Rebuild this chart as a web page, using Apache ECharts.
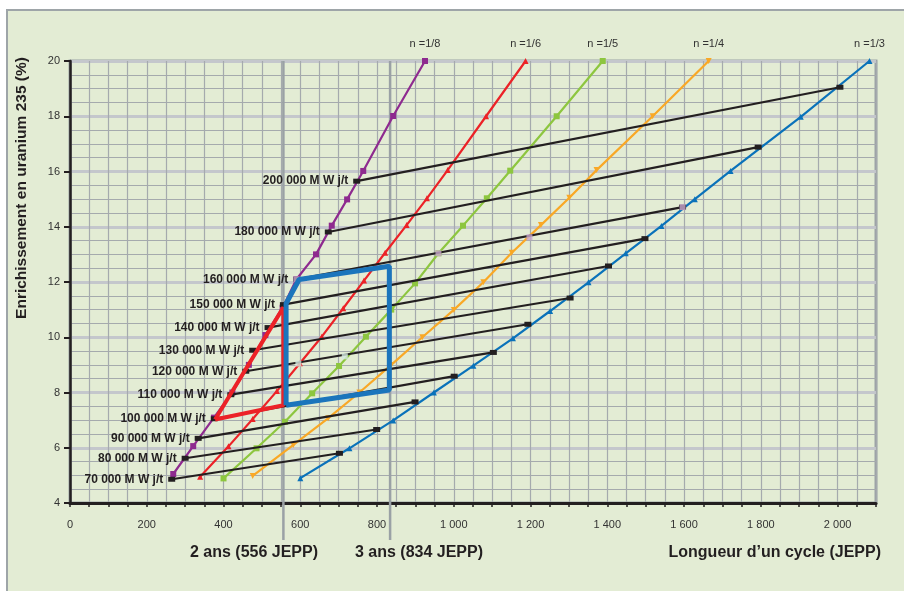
<!DOCTYPE html>
<html>
<head>
<meta charset="utf-8">
<script src="https://cdn.jsdelivr.net/npm/echarts@6/dist/echarts.min.js"></script>
<style>
html,body{margin:0;padding:0;background:#fff;}
#frame{position:absolute;left:6px;top:9px;right:0;bottom:0;background:#e3ecd4;border-left:2px solid #9ea5a8;border-top:2px solid #9ea5a8;}
#chart{position:absolute;left:0;top:0;width:904px;height:591px;}
</style>
</head>
<body>
<div id="frame"></div>
<div id="chart"></div>
<script>
// ---- data ----
const nLabels = ['n =1/8', 'n =1/6', 'n =1/5', 'n =1/4', 'n =1/3'];
const n8 = [[269,5.05],[321,6.06],[375,7.09],[423,8.0],[466,9.0],[509,10.08],[554,11.07],[590,12.1],[641,13.0],[682,14.04],[722,14.99],[764,16.02],[842,18.01],[925,20]];
const n6 = [[339,4.95],[413,6.05],[476,7.04],[539,8.05],[599,9.06],[656,10.02],[712,11.05],[766,12.05],[821,13.06],[877,14.06],[930,15.03],[984,16.05],[1084,18.0],[1187,20]];
const n5 = [[400,4.89],[486,5.98],[560,6.94],[631,7.97],[701,8.96],[771,10.02],[837,11.0],[899,11.95],[960,13.04],[1024,14.04],[1086,15.03],[1147,16.03],[1268,18.0],[1388,20]];
const n4 = [[476,4.98],[582,6.1],[673,7.07],[754,8.0],[837,9.0],[918,10.0],[1000,10.99],[1077,11.99],[1151,13.06],[1227,14.06],[1301,15.05],[1372,16.05],[1518,18.0],[1664,20]];
const n3 = [[600,4.9],[728,5.98],[842,6.99],[948,8.0],[1051,8.97],[1154,9.96],[1251,10.95],[1351,11.99],[1448,13.04],[1541,14.03],[1628,15.0],[1721,16.02],[1904,17.98],[2083,20]];

const burnupLabels = ['70 000 M W j/t','80 000 M W j/t','90 000 M W j/t','100 000 M W j/t','110 000 M W j/t','120 000 M W j/t','130 000 M W j/t','140 000 M W j/t','150 000 M W j/t','160 000 M W j/t','180 000 M W j/t','200 000 M W j/t'];
const burnupStart = [[265,4.86],[300,5.62],[334,6.34],[376,7.05],[419,7.92],[458,8.77],[476,9.53],[516,10.35],[556,11.18],[591,12.1],[673,13.81],[747,15.65]];
const burnupEnd = [[702,5.80],[799,6.66],[899,7.66],[1001,8.59],[1103,9.45],[1193,10.47],[1303,11.42],[1403,12.58],[1498,13.57],[1596,14.71],[1793,16.88],[2006,19.05]];

const redZone = [[378,7.02],[556,11.08],[556,7.54],[378,7.02]];
const blueZone = [[563,7.54],[563,11.22],[597,12.09],[832,12.57],[832,8.09],[563,7.54]];
const lilacPts = [[590,12.1],[960,13.04],[1197,13.62],[1596,14.71]];
const palePts = [[595,9.05],[716,9.31]];

const cycleLines = [556, 834];
const cycleLabels = ['2 ans (556 JEPP)', '3 ans (834 JEPP)'];
const xTitle = 'Longueur d\u2019un cycle (JEPP)';
const yTitle = 'Enrichissement en uranium 235 (%)';

// ---- chart ----
const FONT = '"Liberation Sans", Arial, sans-serif';
const chart = echarts.init(document.getElementById('chart'), null, {renderer: 'canvas'});

const nColors = ['#8e2a8f', '#ec2227', '#8dc63f', '#f9a826', '#0a72ba'];
const nSymbols = ['rect', 'triangle', 'rect', 'triangle', 'triangle'];
const nRot = [0, 0, 0, 180, 0];
const nData = [n8, n6, n5, n4, n3];

const series = [];
nData.forEach((d, i) => {
  series.push({
    type: 'line', name: nLabels[i], z: 3,
    data: d.map((p, j) => j === d.length - 1 ? {
      value: p,
      label: {show: true, formatter: nLabels[i], position: 'top', distance: 9,
              fontFamily: FONT, fontSize: 11, color: '#333'}
    } : p),
    lineStyle: {color: nColors[i], width: 2.2},
    itemStyle: {color: nColors[i]},
    symbol: nSymbols[i], symbolSize: 6, symbolRotate: nRot[i],
    showSymbol: true
  });
});
burnupLabels.forEach((lab, i) => {
  series.push({
    type: 'line', name: lab, z: 4,
    data: [{value: burnupStart[i], label: {show: true, formatter: lab, position: 'left', distance: 5,
            fontFamily: FONT, fontSize: 12, fontWeight: 'bold', color: '#231f20'}},
           burnupEnd[i]],
    lineStyle: {color: '#231f20', width: 2.2},
    itemStyle: {color: '#231f20'},
    symbol: 'rect', symbolSize: [7, 5]
  });
});
series.push({type: 'scatter', z: 5, data: lilacPts, symbol: 'rect', symbolSize: 6, itemStyle: {color: '#c9a8d0'}});
series.push({type: 'scatter', z: 5, data: palePts, symbol: 'rect', symbolSize: 6, itemStyle: {color: '#d3e7df'}});
series.push({type: 'line', z: 6, data: redZone, showSymbol: false, lineStyle: {color: '#ec2227', width: 4}});
series.push({type: 'line', z: 7, data: blueZone, showSymbol: false, lineStyle: {color: '#1b75bc', width: 5}});

chart.setOption({
  animation: false,
  grid: {left: 70, right: 28, top: 61, bottom: 88, show: true, borderColor: '#9ca3a6', borderWidth: 3, backgroundColor: 'transparent'},
  xAxis: {
    type: 'value', min: 0, max: 2100, interval: 50,
    axisLine: {lineStyle: {color: '#231f20', width: 3}},
    axisTick: {show: true, length: 4, lineStyle: {color: '#231f20', width: 1.5}},
    axisLabel: {margin: 16, fontFamily: FONT, fontSize: 11, color: '#333',
      formatter: v => (v % 200 === 0 ? (v >= 1000 ? Math.floor(v/1000) + ' ' + String(v % 1000).padStart(3, '0') : String(v)) : '')},
    splitLine: {show: true, lineStyle: {color: '#a5aaad', width: 1.2}}
  },
  yAxis: {
    type: 'value', min: 4, max: 20, interval: 2,
    axisLine: {show: true, lineStyle: {color: '#231f20', width: 2.5}},
    axisTick: {show: true, length: 6, lineStyle: {color: '#231f20', width: 2}},
    axisLabel: {margin: 10, fontFamily: FONT, fontSize: 11, color: '#333'},
    splitLine: {show: true, lineStyle: {color: '#c4c7cc', width: 3}},
    minorTick: {show: false, splitNumber: 4},
    minorSplitLine: {show: true, lineStyle: {color: '#a5aaad', width: 1.2}}
  },
  series: series
});

const labelCenters = [254, 419];
const graphics = [];
cycleLines.forEach((v, i) => {
  const top = chart.convertToPixel({xAxisIndex: 0, yAxisIndex: 0}, [v, 20]);
  const bot = chart.convertToPixel({xAxisIndex: 0, yAxisIndex: 0}, [v, 4]);
  graphics.push({type: 'line', z: 1, silent: true,
    shape: {x1: top[0], y1: top[1], x2: bot[0], y2: bot[1] + 37},
    style: {stroke: '#9aa1a5', lineWidth: 2.5}});
  graphics.push({type: 'text', z: 10, x: labelCenters[i], y: 553,
    style: {text: cycleLabels[i], fontFamily: FONT, fontSize: 16, fontWeight: 'bold', fill: '#231f20',
            textAlign: 'center', textVerticalAlign: 'middle'}});
});
graphics.push({type: 'text', z: 10, x: 881, y: 553,
  style: {text: xTitle, fontFamily: FONT, fontSize: 16, fontWeight: 'bold', fill: '#231f20',
          textAlign: 'right', textVerticalAlign: 'middle'}});
graphics.push({type: 'text', z: 10, x: 22, y: 188, rotation: Math.PI / 2,
  style: {text: yTitle, fontFamily: FONT, fontSize: 15.5, fontWeight: 'bold', fill: '#231f20',
          textAlign: 'center', textVerticalAlign: 'middle'}});
chart.setOption({graphic: graphics});
</script>
</body>
</html>
